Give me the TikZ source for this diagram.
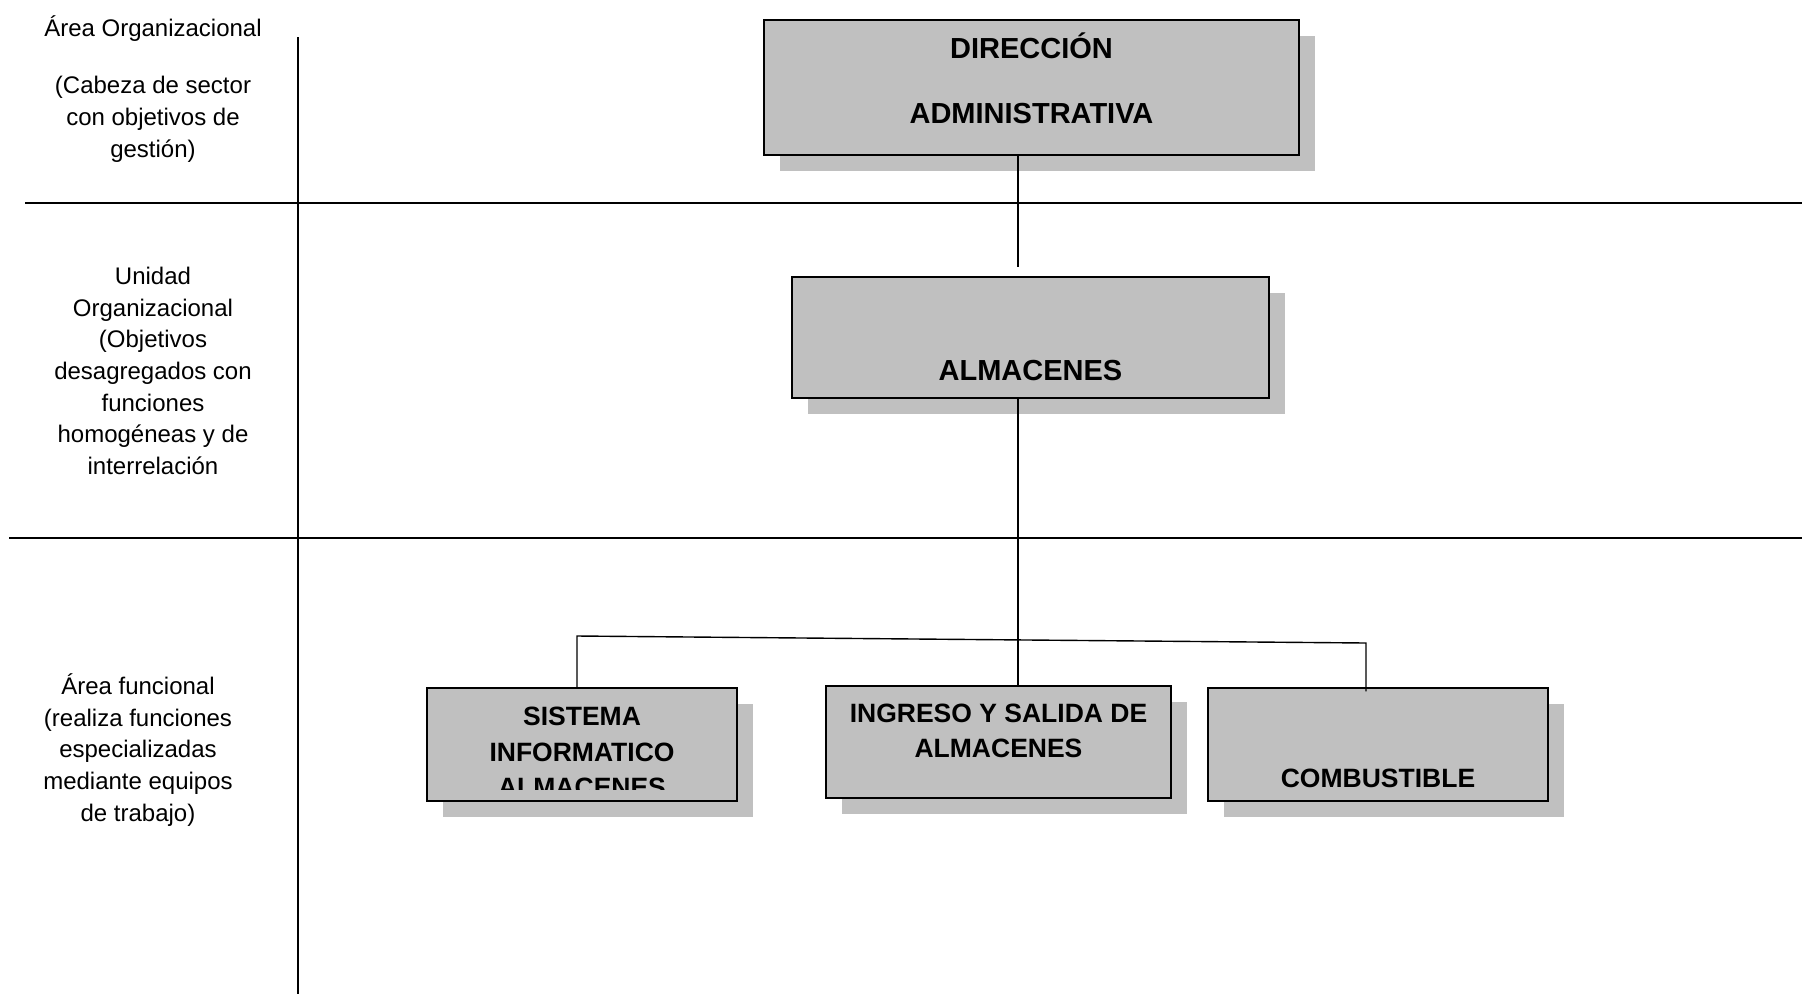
\documentclass[tikz,border=0pt]{standalone}
\usepackage{fontspec}
\setmainfont{Liberation Sans}
\usetikzlibrary{shadows,positioning}
\definecolor{boxgray}{HTML}{C0C0C0}

\begin{document}
\begin{tikzpicture}[x=1pt, y=-1pt,
    unitbox/.style={draw, line width=1.4pt, fill=boxgray, inner sep=0pt,
      drop shadow={shadow xshift=16pt, shadow yshift=-16pt, fill=boxgray, opacity=1}},
    bigtext/.style={font=\bfseries\fontsize{29}{33}\selectfont, align=center, inner sep=0pt},
    unittext/.style={font=\bfseries\fontsize{26.5}{35.5}\selectfont, align=center, inner sep=0pt},
    leveltext/.style={font=\fontsize{24}{31.6}\selectfont, align=center, inner sep=0pt},
    conn/.style={line width=1.4pt}]
    \useasboundingbox (0,0) rectangle (1802,994);

    % level grid
    \draw[conn] (298,37) -- (298,994);
    \draw[conn] (25,203) -- (1802,203);
    \draw[conn] (9,538) -- (1802,538);

    \node[leveltext] (lev1) at (153,89)
      {Área Organizacional\\[25.5pt](Cabeza de sector\\con objetivos de\\gestión)};
    \node[leveltext] (lev2) at (153,371)
      {Unidad\\Organizacional\\(Objetivos\\desagregados con\\funciones\\homogéneas y de\\interrelación};
    \node[leveltext] (lev3) at (138,750)
      {Área funcional\\(realiza funciones\\especializadas\\mediante equipos\\de trabajo)};

    % boxes
    \node[unitbox, minimum width=535pt, minimum height=135pt] (dir) at (1031.5,87.5) {};
    \node[unitbox, minimum width=477pt, minimum height=121pt] (alm) at (1030.5,337.5) {};
    \node[unitbox, minimum width=310pt, minimum height=113pt] (sis) at (582,744.5) {};
    \node[unitbox, minimum width=345pt, minimum height=112pt] (ing) at (998.5,742) {};
    \node[unitbox, minimum width=340pt, minimum height=113pt] (com) at (1378,744.5) {};

    \node[bigtext] (dirtext) at ([yshift=9pt]dir.center) {DIRECCIÓN\\[32pt]ADMINISTRATIVA};
    \node[bigtext] (almtext) at ([yshift=-33pt]alm.center) {ALMACENES};
    \begin{scope}
      \clip (sis.north west) rectangle ([yshift=12pt]sis.south east);
      \node[unittext] (sistext) at ([yshift=-7.5pt]sis.center) {SISTEMA\\INFORMATICO\\ALMACENES};
    \end{scope}
    \node[unittext] (ingtext) at ([yshift=11pt]ing.center) {INGRESO Y SALIDA DE\\ALMACENES};
    \node[unittext] (comtext) at ([yshift=-33.5pt]com.center) {COMBUSTIBLE};

    % connectors
    \coordinate (TRUNK) at (1018,0);
    \coordinate (DIRFOOT) at (1018,267);
    \coordinate (BRLEFT) at (577,636);
    \coordinate (BRRIGHT) at (1366,643);
    \draw[conn] (dir.south -| TRUNK) -- (DIRFOOT);
    \draw[conn] (alm.south -| TRUNK) -- (ing.north -| TRUNK);
    \draw[conn] (sis.north -| BRLEFT) -- (BRLEFT) -- (BRRIGHT) -- ([yshift=-4pt]com.north -| BRRIGHT);
\end{tikzpicture}
\end{document}
